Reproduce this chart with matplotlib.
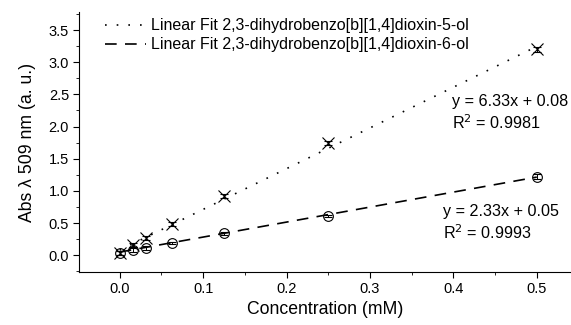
import matplotlib.pyplot as plt
from matplotlib.ticker import MultipleLocator

plt.rcParams['font.family'] = ['Liberation Sans', 'DejaVu Sans']

# concentrations (mM)
conc = [0.0, 0.015625, 0.03125, 0.0625, 0.125, 0.25, 0.5]

# absorbance at 509 nm
abs_5ol = [0.03, 0.16, 0.27, 0.48, 0.92, 1.75, 3.20]
err_5ol = [0.03, 0.03, 0.03, 0.03, 0.03, 0.03, 0.04]
abs_6ol = [0.03, 0.08, 0.12, 0.19, 0.34, 0.61, 1.22]
err_6ol = [0.03, 0.03, 0.03, 0.02, 0.02, 0.02, 0.04]

# linear fits (slope, intercept, R^2)
fit_5ol = (6.33, 0.08, 0.9981)
fit_6ol = (2.33, 0.05, 0.9993)

fig = plt.figure(figsize=(5.71, 3.25), dpi=100)
ax = fig.add_axes([0.138, 0.163, 0.862, 0.80])

fx = [0.0, 0.5]
ax.plot(fx, [fit_5ol[0] * x + fit_5ol[1] for x in fx], color='black', ls=(0, (1, 6)), lw=1.2,
        label='Linear Fit 2,3-dihydrobenzo[b][1,4]dioxin-5-ol')
ax.plot(fx, [fit_6ol[0] * x + fit_6ol[1] for x in fx], color='black', ls=(0, (7, 5)), lw=1.2,
        label='Linear Fit 2,3-dihydrobenzo[b][1,4]dioxin-6-ol')

ax.errorbar(conc, abs_5ol, yerr=err_5ol, fmt='x', color='black', ms=8, mew=0.8,
            elinewidth=0.7, capsize=3, capthick=0.7)
ax.errorbar(conc, abs_6ol, yerr=err_6ol, fmt='o', mfc='none', mec='black', color='black',
            ms=7, mew=0.8, elinewidth=0.7, capsize=3, capthick=0.7)

ax.text(0.398, 2.5, 'y = %.2fx + %.2f\nR$^2$ = %.4f' % fit_5ol, fontsize=11.6,
        linespacing=1.25, va='top')
ax.text(0.387, 0.79, 'y = %.2fx + %.2f\nR$^2$ = %.4f' % fit_6ol, fontsize=11.6,
        linespacing=1.25, va='top')

ax.set_xlim(-0.049, 0.541)
ax.set_ylim(-0.26, 3.78)
ax.xaxis.set_major_locator(MultipleLocator(0.1))
ax.xaxis.set_minor_locator(MultipleLocator(0.05))
ax.yaxis.set_major_locator(MultipleLocator(0.5))
ax.yaxis.set_minor_locator(MultipleLocator(0.25))
ax.tick_params(which='both', direction='out', labelsize=10.5, pad=3)
ax.tick_params(which='major', length=4)
ax.tick_params(which='minor', length=2.5)
ax.spines['top'].set_visible(False)
ax.spines['right'].set_visible(False)

ax.set_xlabel('Concentration (mM)', fontsize=12.7, labelpad=4)
ax.set_ylabel('Abs λ 509 nm (a. u.)', fontsize=12.7, labelpad=9)

ax.legend(loc='upper left', frameon=False, fontsize=11.5, handlelength=2.6,
          handletextpad=0.3, borderaxespad=0.0, labelspacing=0.25,
          bbox_to_anchor=(0.04, 1.0))

fig.savefig('out.png', dpi=100)
